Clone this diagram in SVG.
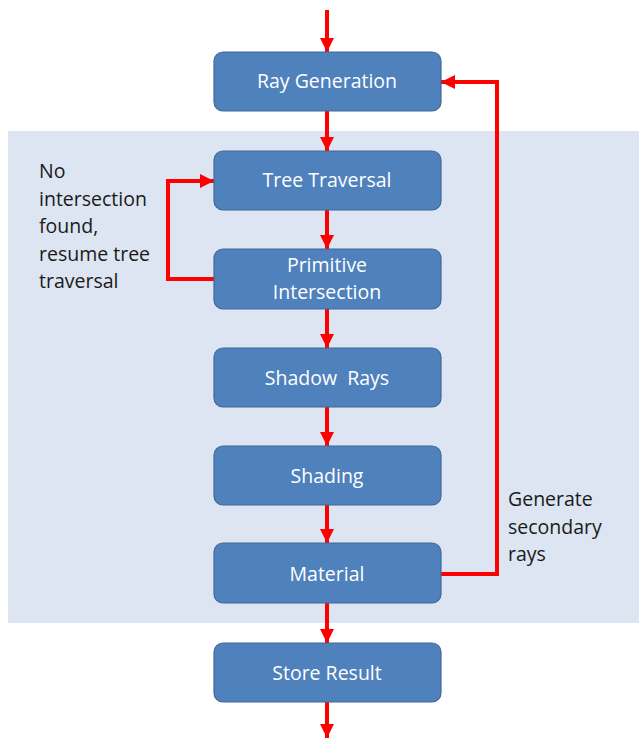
<svg xmlns="http://www.w3.org/2000/svg" width="639" height="738" viewBox="0 0 639 738">
  <defs>
    <marker id="arr" viewBox="0 0 10 10" refX="10" refY="5" markerWidth="3.8" markerHeight="3.5" markerUnits="strokeWidth" orient="auto">
      <path d="M0,0 L10,5 L0,10 z" fill="#FF0000"/>
    </marker>
    <style>
      .box { fill: #4F81BD; stroke: #41689A; stroke-width: 1.2; }
      .bt { fill: #FFFFFF; font-family: "Open Sans", "Liberation Sans", sans-serif; font-size: 19.5px; text-anchor: middle; }
      .lbl { fill: #1A1A1A; font-family: "Open Sans", "Liberation Sans", sans-serif; font-size: 19.5px; }
      .con { fill: none; stroke: #FF0000; stroke-width: 4; marker-end: url(#arr); }
    </style>
  </defs>
  <rect width="639" height="738" fill="#FFFFFF"/>
  <rect id="panel" x="8" y="131" width="631" height="492" fill="#DCE5F1"/>

  <g id="connectors">
    <line class="con" x1="327" y1="10" x2="327" y2="52"/>
    <line class="con" x1="327" y1="111" x2="327" y2="151"/>
    <line class="con" x1="327" y1="210" x2="327" y2="249"/>
    <line class="con" x1="327" y1="309" x2="327" y2="348"/>
    <line class="con" x1="327" y1="407" x2="327" y2="446"/>
    <line class="con" x1="327" y1="505" x2="327" y2="543"/>
    <line class="con" x1="327" y1="603" x2="327" y2="643"/>
    <line class="con" x1="327" y1="702" x2="327" y2="738"/>
    <polyline class="con" points="214,279 168,279 168,181 214,181"/>
    <polyline class="con" points="441,574 497,574 497,82 441,82"/>
  </g>

  <g id="ray-generation">
    <rect class="box" x="214" y="52" width="227" height="59" rx="9"/>
    <text class="bt" x="327" y="88">Ray Generation</text>
  </g>
  <g id="tree-traversal">
    <rect class="box" x="214" y="151" width="227" height="59" rx="9"/>
    <text class="bt" x="327" y="187">Tree Traversal</text>
  </g>
  <g id="primitive-intersection">
    <rect class="box" x="214" y="249" width="227" height="60" rx="9"/>
    <text class="bt" x="327" y="272">Primitive</text>
    <text class="bt" x="327" y="299">Intersection</text>
  </g>
  <g id="shadow-rays">
    <rect class="box" x="214" y="348" width="227" height="59" rx="9"/>
    <text class="bt" x="327" y="385" xml:space="preserve">Shadow  Rays</text>
  </g>
  <g id="shading">
    <rect class="box" x="214" y="446" width="227" height="59" rx="9"/>
    <text class="bt" x="327" y="483">Shading</text>
  </g>
  <g id="material">
    <rect class="box" x="214" y="543" width="227" height="60" rx="9"/>
    <text class="bt" x="327" y="581">Material</text>
  </g>
  <g id="store-result">
    <rect class="box" x="214" y="643" width="227" height="59" rx="9"/>
    <text class="bt" x="327" y="680">Store Result</text>
  </g>

  <g id="label-no-intersection">
    <text class="lbl" x="39" y="178">No</text>
    <text class="lbl" x="39" y="206">intersection</text>
    <text class="lbl" x="39" y="233">found,</text>
    <text class="lbl" x="39" y="261">resume tree</text>
    <text class="lbl" x="39" y="288">traversal</text>
  </g>
  <g id="label-secondary">
    <text class="lbl" x="508" y="506">Generate</text>
    <text class="lbl" x="508" y="534">secondary</text>
    <text class="lbl" x="508" y="561">rays</text>
  </g>
</svg>
